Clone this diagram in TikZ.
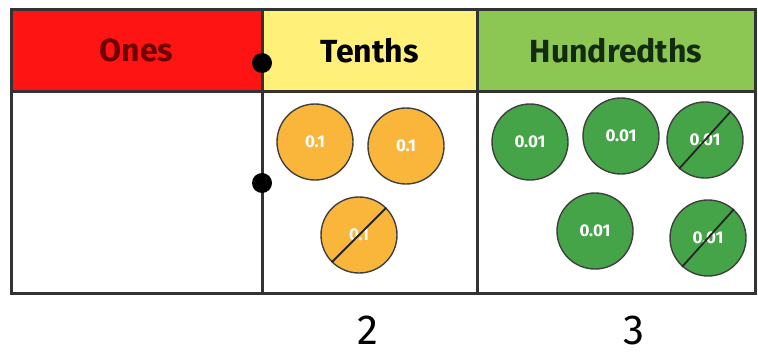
\documentclass[tikz,border=0pt]{standalone}
\usepackage{fontspec}
\setmainfont{Fira Sans}
\definecolor{onesred}{HTML}{FF1414}
\definecolor{onestext}{HTML}{6E0000}
\definecolor{tenthsyellow}{HTML}{FFF07A}
\definecolor{hundgreen}{HTML}{8CC653}
\definecolor{hundtext}{HTML}{132B10}
\definecolor{coinorange}{HTML}{F9B63A}
\definecolor{coingreen}{HTML}{45A348}
\definecolor{gridline}{HTML}{333333}
\begin{document}
\begin{tikzpicture}[x=0.5pt,y=-0.5pt,
  hdr/.style={draw=gridline, line width=1.5pt, inner sep=0pt, font=\bfseries\fontsize{16}{18}\selectfont},
  cell/.style={draw=gridline, line width=1.5pt, inner sep=0pt, fill=white},
  coin/.style={circle, draw=black!75, line width=0.7pt, minimum size=38pt, inner sep=0pt, text=white, font=\bfseries\fontsize{8.5}{9}\selectfont},
  tcoin/.style={coin, fill=coinorange},
  hcoin/.style={coin, fill=coingreen},
  cross/.style={draw=black!85, line width=0.9pt},
  dot/.style={circle, fill=black, minimum size=10pt, inner sep=0pt},
  digit/.style={inner sep=0pt, font=\fontsize{21}{22}\selectfont}]
\useasboundingbox (0,0) rectangle (758,353);
% body cells
\node[cell, minimum width=125.5pt, minimum height=101pt] (bones) at (136.5,192) {};
\node[cell, minimum width=107.5pt, minimum height=101pt] (btenths) at (369.5,192) {};
\node[cell, minimum width=139pt, minimum height=101pt] (bhund) at (616,192) {};
% header cells
\node[hdr, fill=onesred, text=onestext, minimum width=125.5pt, minimum height=40.5pt] (ones) at (136.5,50.5) {Ones};
\node[hdr, fill=tenthsyellow, text=black, minimum width=107.5pt, minimum height=40.5pt] (tenths) at (369.5,50.5) {Tenths};
\node[hdr, fill=hundgreen, text=hundtext, minimum width=139pt, minimum height=40.5pt] (hund) at (616,50.5) {Hundredths};
% dots
\node[dot] (d1) at (262,63) {};
\node[dot] (d2) at (262,183) {};
% tenths coins
\node[tcoin] (t1) at (315,142) {0.1};
\node[tcoin] (t2) at (406,146) {0.1};
\node[tcoin] (t3) at (359,235) {0.1};
\draw[cross] (t3.225) -- (t3.45);
% hundredths coins
\node[hcoin] (h1) at (530,142) {0.01};
\node[hcoin] (h2) at (621,136) {0.01};
\node[hcoin] (h3) at (705,140) {0.01};
\node[hcoin] (h4) at (595,231) {0.01};
\node[hcoin] (h5) at (708,238) {0.01};
\draw[cross] (h3.228) -- (h3.48);
\draw[cross] (h5.228) -- (h5.48);
% digits
\node[digit] (n2) at (368,330) {2};
\node[digit] (n3) at (634,330) {3};
\end{tikzpicture}
\end{document}
